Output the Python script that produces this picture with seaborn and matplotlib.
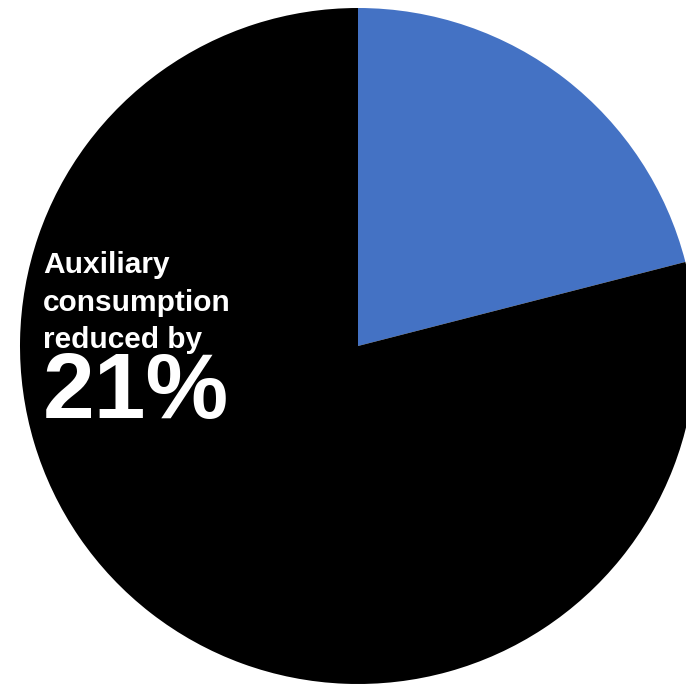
import matplotlib
matplotlib.use("Agg")
import matplotlib.pyplot as plt
import seaborn as sns

# Share of auxiliary consumption saved vs. remaining
categories = ["Reduction", "Remaining"]
shares = [21, 79]
colors = ["#4472C4", "#000000"]

headline_lines = ["Auxiliary", "consumption", "reduced by"]
value_label = f"{shares[0]}%"

sns.set_theme(style="white")
plt.rcParams["font.family"] = ["Liberation Sans", "DejaVu Sans"]

fig = plt.figure(figsize=(6.86, 6.84), dpi=100)
ax = fig.add_axes([0, 0, 1, 1])

ax.pie(shares, colors=colors, startangle=90, counterclock=False,
       radius=1.0, center=(0, 0), wedgeprops=dict(linewidth=0))

# Pixel-based framing: pie centre at (358, 346), radius 338 px
cx, cy, r = 358.0, 346.0, 338.0
W, H = 686.0, 684.0
ax.set_xlim(-cx / r, (W - cx) / r)
ax.set_ylim(-(H - cy) / r, cy / r)
ax.set_aspect("auto")
ax.axis("off")

def px(x, y):
    return (x - cx) / r, (cy - y) / r

for i, line in enumerate(headline_lines):
    tx, ty = px(43, 273 + 37.5 * i)
    ax.text(tx, ty, line, color="white", fontsize=21.5, fontweight="bold",
            ha="left", va="baseline")

vx, vy = px(43, 418)
ax.text(vx, vy, value_label, color="white", fontsize=67, fontweight="bold",
        ha="left", va="baseline")

fig.savefig("out.png", dpi=100, facecolor="white")
